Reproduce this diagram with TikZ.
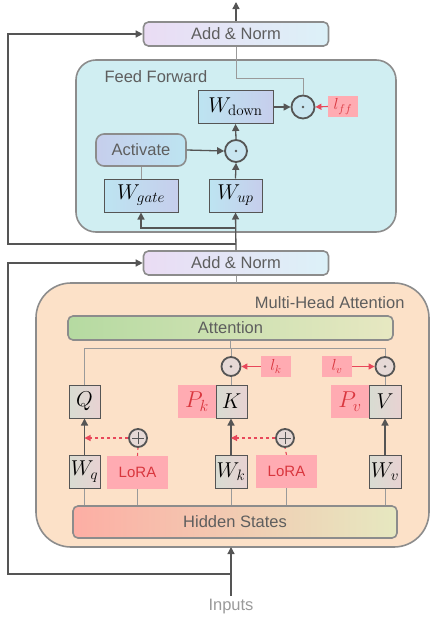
\RequirePackage{fix-cm}
\documentclass[tikz,border=0pt]{standalone}
\usepackage[no-math]{fontspec}
\setmainfont{Liberation Sans}
\usetikzlibrary{arrows.meta}

\definecolor{darkline}{HTML}{555555}
\definecolor{thinline}{HTML}{9A9A9A}
\definecolor{bordergray}{HTML}{8C8C8C}
\definecolor{txtgray}{HTML}{5E5E5E}
\definecolor{ffcyan}{HTML}{D0EEF2}
\definecolor{mhapeach}{HTML}{FCE1C8}
\definecolor{loraPink}{HTML}{FFABB2}
\definecolor{loraRed}{HTML}{D9363E}
\definecolor{arrowRed}{HTML}{E8475A}
\definecolor{normL}{HTML}{EADCF4}
\definecolor{normR}{HTML}{DCF1F8}
\definecolor{ffwL}{HTML}{BDE4F1}
\definecolor{ffwR}{HTML}{C6CEEC}
\definecolor{attwL}{HTML}{D8DCD2}
\definecolor{attwR}{HTML}{E8D2D2}
\definecolor{attnL}{HTML}{B5DAA1}
\definecolor{attnR}{HTML}{E7E8C2}
\definecolor{hidL}{HTML}{FDAEA4}
\definecolor{hidR}{HTML}{E6E8C0}
\definecolor{dotblue}{HTML}{C9E6F1}
\definecolor{dotrose}{HTML}{E6D9D6}

\tikzset{
  lbl/.style={font=\fontsize{16.5}{18}\selectfont, text=txtgray},
  panel/.style={draw=bordergray, line width=1.6pt},
  normbox/.style={lbl, draw=bordergray, line width=1.6pt, rounded corners=5pt,
    minimum width=185pt, minimum height=24pt, inner sep=0pt,
    left color=normL, right color=normR},
  wbox/.style={draw=darkline, line width=1pt, inner sep=0pt, minimum height=33pt,
    font=\fontsize{21.5}{22}\selectfont},
  ffw/.style={wbox, left color=ffwL, right color=ffwR},
  attw/.style={wbox, left color=attwL, right color=attwR},
  pinkbox/.style={fill=loraPink, inner sep=0pt, text=loraRed},
  dotnode/.style={circle, draw=darkline, line width=1.8pt, inner sep=0pt, minimum size=#1,
    path picture={\fill[darkline] (path picture bounding box.center) circle (1.3pt);}},
  plusnode/.style={circle, draw=darkline, line width=1.8pt, inner sep=0pt, minimum size=18pt,
    fill=dotrose,
    path picture={\draw[darkline, line width=0.7pt]
      ([xshift=-6pt]path picture bounding box.center) -- ([xshift=6pt]path picture bounding box.center)
      ([yshift=-6pt]path picture bounding box.center) -- ([yshift=6pt]path picture bounding box.center);}},
  arr/.style={darkline, line width=1.3pt, -{Triangle[length=7pt,width=7pt]}},
  thin/.style={thinline, line width=0.9pt},
  redarr/.style={arrowRed, line width=1.1pt, -{Triangle[length=6pt,width=6pt]}},
}

\begin{document}
\begin{tikzpicture}[x=1pt, y=-1pt]
  %%%%% START %%%%%
  \useasboundingbox (0,0) rectangle (431,621);

  %%%%% feed forward block
  \draw[panel, fill=ffcyan, rounded corners=20pt] (76,60) rectangle (396,232);
  \node[lbl, anchor=west] (fflabel) at (101,77) {Feed Forward};
  \node[normbox] (addtop) at (236,34) {Add \& Norm};
  \node[ffw, minimum width=75pt] (wdown) at (235.5,107) {$W_{\mathrm{down}}$};
  \node[dotnode=23pt, fill=dotblue] (dotff) at (303,107) {};
  \node[pinkbox, minimum width=30pt, minimum height=21pt, font=\fontsize{16}{17}\selectfont] (lff) at (343,106.5) {$l_{ff}$};
  \node[lbl, draw=bordergray, line width=1.6pt, rounded corners=8pt, minimum width=90pt,
    minimum height=32pt, left color=ffwR, right color=ffwL] (activate) at (141,150) {Activate};
  \node[dotnode=22pt, fill=dotblue] (dotup) at (236,151) {};
  \node[ffw, minimum width=74pt] (wgate) at (141,195.5) {$W_{gate}$};
  \node[ffw, minimum width=53pt] (wup) at (235.5,195.5) {$W_{up}$};

  \draw[arr] (addtop.north) -- (236,2);
  \draw[arr] (wdown.east) -- (dotff.west);
  \draw[redarr] (lff.west) -- (dotff.east);
  \draw[thin] (dotff.north) -- (303,78) -- (236,78) -- (addtop.south);
  \draw[arr] (activate.east) -- (dotup.west);
  \draw[arr] (dotup.north) -- (wdown.south);
  \draw[arr] (wup.north) -- (dotup.south);
  \draw[thin] (wgate.north) -- (activate.south);

  %%%%% multi-head attention block
  \draw[panel, fill=mhapeach, rounded corners=35pt] (36,283) rectangle (429,547);
  \node[lbl, anchor=east] (mhalabel) at (408,303) {Multi-Head Attention};
  \node[normbox] (addmid) at (236,263) {Add \& Norm};
  \node[lbl, draw=bordergray, line width=1.6pt, rounded corners=5pt, minimum width=325pt,
    minimum height=24pt, inner sep=0pt, left color=attnL, right color=attnR] (attention) at (230.5,328) {Attention};
  \node[dotnode=19pt, fill=dotrose] (dotk) at (231,366.5) {};
  \node[dotnode=19pt, fill=dotrose] (dotv) at (385,366.5) {};
  \node[pinkbox, minimum width=30pt, minimum height=21pt, font=\fontsize{16}{17}\selectfont] (lk) at (276,366.5) {$l_k$};
  \node[pinkbox, minimum width=30pt, minimum height=21pt, font=\fontsize{16}{17}\selectfont] (lv) at (337,366.5) {$l_v$};
  \node[attw, minimum width=31pt] (q) at (84.5,401.5) {$Q$};
  \node[attw, minimum width=31pt] (k) at (231.5,401.5) {$K$};
  \node[attw, minimum width=32pt] (v) at (385,401.5) {$V$};
  \node[pinkbox, minimum width=38pt, minimum height=33pt, font=\fontsize{23}{24}\selectfont] (pk) at (197,401.5) {$P_k$};
  \node[pinkbox, minimum width=38pt, minimum height=33pt, font=\fontsize{23}{24}\selectfont] (pv) at (350,401.5) {$P_v$};
  \node[plusnode] (plusq) at (138,438) {};
  \node[plusnode] (plusk) at (285,438) {};
  \node[attw, minimum width=31pt] (wq) at (84.5,471.5) {$W_q$};
  \node[attw, minimum width=32pt] (wk) at (231,471.5) {$W_k$};
  \node[attw, minimum width=32pt] (wv) at (385,471.5) {$W_v$};
  \node[pinkbox, minimum width=61pt, minimum height=33pt, font=\fontsize{15}{16}\selectfont] (lora1) at (137.5,472.5) {LoRA};
  \node[pinkbox, minimum width=61pt, minimum height=33pt, font=\fontsize{15}{16}\selectfont] (lora2) at (286.5,471.5) {LoRA};
  \node[lbl, draw=bordergray, line width=1.6pt, rounded corners=5pt, minimum width=324pt,
    minimum height=32pt, inner sep=0pt, left color=hidL, right color=hidR] (hidden) at (235,522) {Hidden States};
  \node[lbl, text=thinline] (inputs) at (231,607) {Inputs};

  \coordinate (bus) at (0,348);
  \draw[thin] (addmid.south) -- (236,283);
  \draw[thin] (attention.south) -- (attention.south |- bus);
  \draw[thin] (q.north) -- (q.north |- bus) -- (dotv.north |- bus) -- (dotv.north);
  \draw[thin] (dotk.north |- bus) -- (dotk.north);
  \draw[thin] (dotk.south) -- (dotk.south |- k.north);
  \draw[thin] (dotv.south) -- (v.north);
  \draw[redarr] (lk.west) -- (dotk.east);
  \draw[redarr] (lv.east) -- (dotv.west);
  \draw[arr] (wq.north) -- (q.south);
  \draw[arr] (wk.north) -- (wk.north |- k.south);
  \draw[arr] (wv.north) -- (v.south);
  \draw[redarr, dashed] (plusq.west) -- (q.south |- plusq.west);
  \draw[redarr, dashed] (plusk.west) -- (wk.north |- plusk.west);
  \draw[arrowRed, line width=1.1pt, dashed] (lora1.north) -- (plusq.south);
  \draw[arrowRed, line width=1.1pt, dashed] (lora2.north) -- (plusk.south);
  \foreach \b in {wq, lora1, wk, lora2, wv}
    \draw[thin] (\b.south) -- (\b.south |- hidden.north);
  \draw[arr] (inputs.north) -- (231,547);

  %%%%% residual paths
  \coordinate (restop) at (236,244);
  \coordinate (resbot) at (231,574);
  \draw[arr] (addmid.north) -- (wup.south);
  \draw[arr] (236,228) -| (wgate.south);
  \draw[arr] (restop) -- (8,244) -- (8,34) -- (addtop.west);
  \draw[arr] (resbot) -- (8,574) -- (8,263) -- (addmid.west);

  %%%%% END %%%%%
\end{tikzpicture}
\end{document}
